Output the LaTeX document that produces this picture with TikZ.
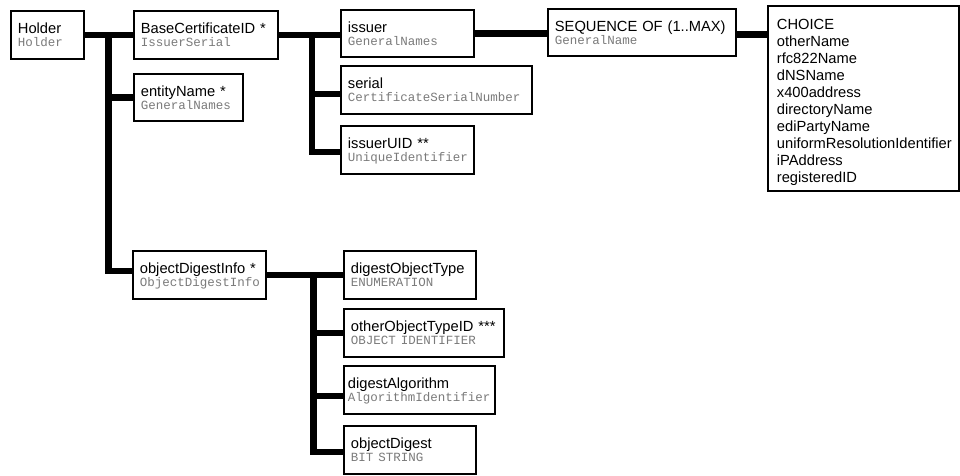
\documentclass[tikz,border=0pt]{standalone}
\usepackage{fontspec}
\setmainfont{Liberation Sans}
\newfontfamily\asnmono{Liberation Mono}
\begin{document}
\begin{tikzpicture}[x=1pt,y=-1pt,
  box/.style={draw, line width=1.8pt, rectangle, anchor=north west,
    inner xsep=7pt, inner ysep=0pt, align=left,
    text height=12pt, text depth=14pt,
    font=\fontsize{14.7}{13}\selectfont},
  conn/.style={line width=6.5pt, line join=miter},
]
\newcommand\asnlabel[2]{#1\\{\asnmono\fontsize{12.5}{13}\selectfont\color{black!52}#2}}
\useasboundingbox (0,0) rectangle (960,475);

% top level
\node[box, minimum width=73, text width=59pt, minimum height=48] (holder) at (10,10) {\asnlabel{Holder}{Holder}};

% Holder components
\node[box, minimum width=144, text width=130pt, minimum height=48] (base) at (133,10) {\asnlabel{BaseCertificateID *}{IssuerSerial}};
\node[box, minimum width=109, text width=95pt, minimum height=47] (entity) at (133,73) {\asnlabel{entityName *}{GeneralNames}};
\node[box, minimum width=133, text width=119pt, minimum height=48] (odi) at (132,250) {\asnlabel{objectDigestInfo *}{ObjectDigestInfo}};

% IssuerSerial components
\node[box, minimum width=133, text width=119pt, minimum height=47] (issuer) at (340,9) {\asnlabel{issuer}{GeneralNames}};
\node[box, minimum width=191, text width=177pt, minimum height=48] (serial) at (340,65) {\asnlabel{serial}{CertificateSerialNumber}};
\node[box, minimum width=133, text width=119pt, minimum height=48] (uid) at (340,125) {\asnlabel{issuerUID **}{UniqueIdentifier}};

% GeneralNames
\node[box, minimum width=188, text width=174pt, minimum height=47] (seq) at (547,8) {\asnlabel{SEQUENCE OF (1..MAX)}{GeneralName}};
\node[box, minimum width=191, text width=173pt, inner xsep=9pt, minimum height=185,
  text depth=149pt, font=\fontsize{14.7}{17}\selectfont] (choice) at (767,5)
  {CHOICE\\otherName\\rfc822Name\\dNSName\\x400address\\directoryName\\ediPartyName\\uniformResolutionIdentifier\\iPAddress\\registeredID};

% ObjectDigestInfo components
\node[box, minimum width=132, text width=118pt, minimum height=48] (dot) at (343,250) {\asnlabel{digestObjectType}{ENUMERATION}};
\node[box, minimum width=160, text width=146pt, minimum height=48] (ooti) at (343,308) {\asnlabel{otherObjectTypeID ***}{OBJECT IDENTIFIER}};
\node[box, minimum width=151, text width=143pt, inner xsep=4pt, minimum height=48] (dalg) at (343,365) {\asnlabel{digestAlgorithm}{AlgorithmIdentifier}};
\node[box, minimum width=132, text width=118pt, minimum height=48] (od) at (343,425) {\asnlabel{objectDigest}{BIT STRING}};

% trunk positions and branch attachment points
\coordinate (t1) at (108.5,0);
\coordinate (t2) at (312,0);
\coordinate (t3) at (313.5,0);
\coordinate (odiIn) at ([yshift=4pt]odi.west);
\coordinate (uidIn) at ([yshift=-2pt]uid.west);
\coordinate (serialIn) at ([yshift=-4pt]serial.west);
\coordinate (seqOut) at ([yshift=-2pt]seq.east);
\coordinate (odIn) at ([yshift=-2pt]od.west);
\coordinate (dalgIn) at ([yshift=-6pt]dalg.west);

% Holder tree
\draw[conn] (holder.east) -- (base.west);
\draw[conn] (t1 |- holder.east) -- (t1 |- odiIn) -- (odiIn);
\draw[conn] (t1 |- entity.west) -- (entity.west);

% IssuerSerial tree
\draw[conn] (base.east) -- (issuer.west |- base.east);
\draw[conn] (t2 |- base.east) -- (t2 |- uidIn) -- (uidIn);
\draw[conn] (t2 |- serialIn) -- (serialIn);

% GeneralNames chain
\draw[conn] (issuer.east) -- (seq.west |- issuer.east);
\draw[conn] (seqOut) -- (choice.west |- seqOut);

% ObjectDigestInfo tree
\draw[conn] (odi.east) -- (dot.west);
\draw[conn] (t3 |- odi.east) -- (t3 |- odIn) -- (odIn);
\draw[conn] (t3 |- ooti.west) -- (ooti.west);
\draw[conn] (t3 |- dalgIn) -- (dalgIn);
\end{tikzpicture}
\end{document}
